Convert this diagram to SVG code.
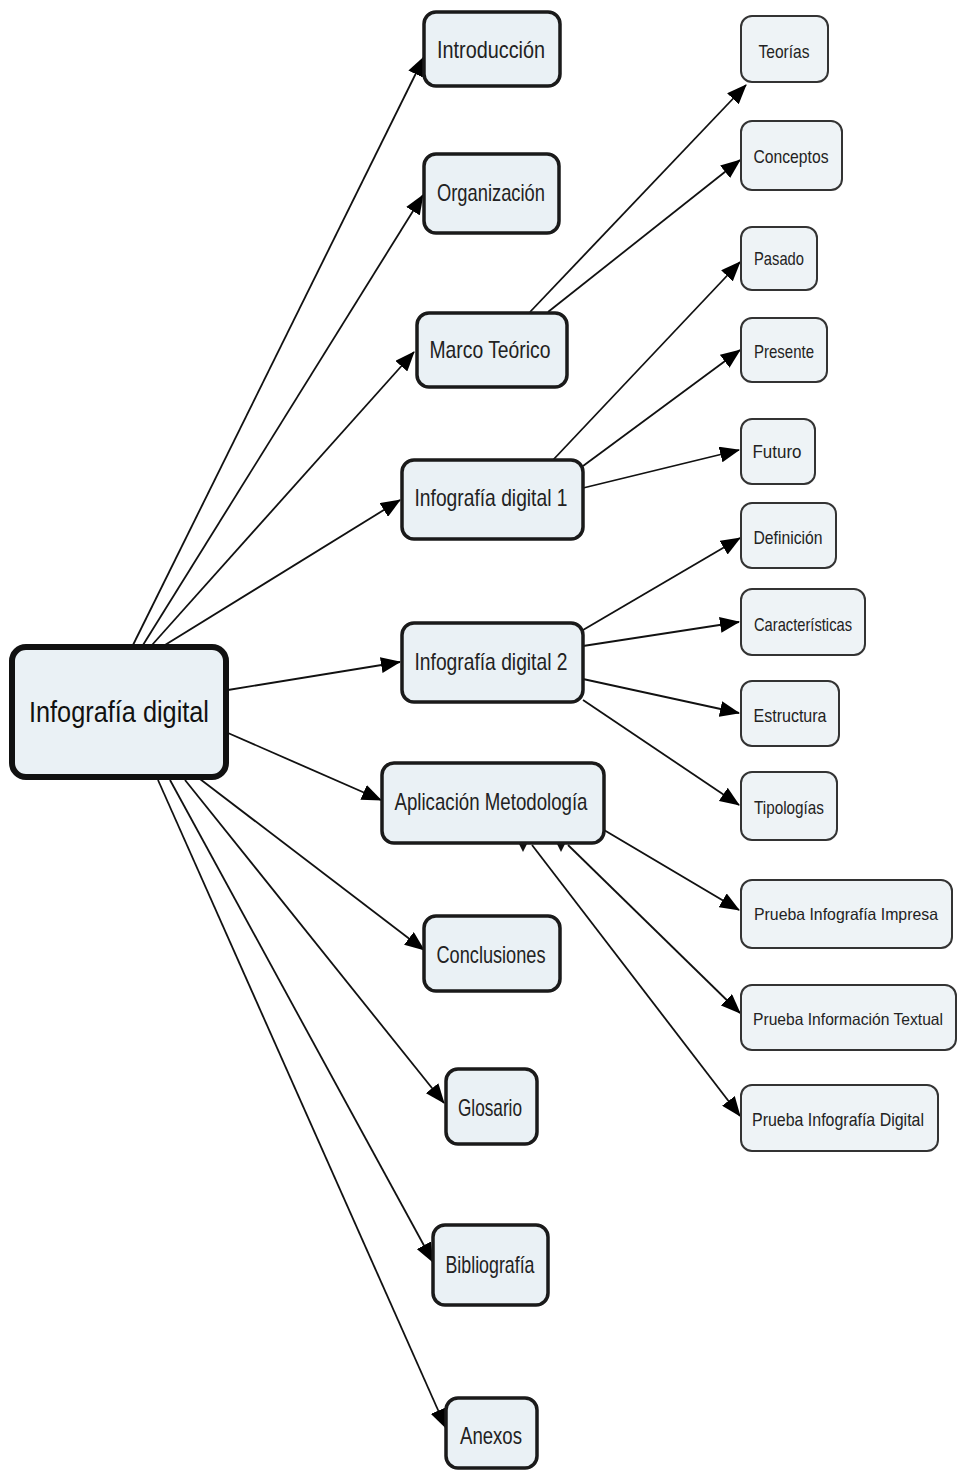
<svg xmlns="http://www.w3.org/2000/svg" width="958" height="1470" viewBox="0 0 958 1470">
<defs>
<marker id="arr" markerUnits="userSpaceOnUse" markerWidth="20" markerHeight="16" refX="19" refY="8" orient="auto">
<path d="M0,0 L20,8 L0,16 Z" fill="#000"/>
</marker>
<style>
.root rect{fill:#eaf1f5;stroke:#111;stroke-width:6}
.mid rect{fill:#eaf1f5;stroke:#1a1a1a;stroke-width:3.5}
.leaf rect{fill:#eef3f6;stroke:#333;stroke-width:2}
text{font-family:"Liberation Sans Narrow","Liberation Sans",Arial,sans-serif;fill:#222;text-anchor:middle}
.root text{font-size:30px;fill:#111}
.mid text{font-size:24px}
.leaf text{font-size:19px}
.leaf text.long{font-size:16.5px}
#connectors line{stroke:#111;stroke-width:1.8;marker-end:url(#arr)}
</style>
</defs>
<rect width="958" height="1470" fill="#fff"/>
<g id="connectors">
<line x1="133" y1="645" x2="424" y2="57"/>
<line x1="143" y1="645" x2="423" y2="195"/>
<line x1="152" y1="645" x2="414" y2="352"/>
<line x1="165" y1="645" x2="400" y2="500"/>
<line x1="228" y1="690" x2="400" y2="662"/>
<line x1="228" y1="733" x2="381" y2="800"/>
<line x1="200" y1="779" x2="424" y2="950"/>
<line x1="185" y1="780" x2="444" y2="1103"/>
<line x1="170" y1="780" x2="433" y2="1262"/>
<line x1="158" y1="780" x2="446" y2="1428"/>
<line x1="530" y1="312" x2="746" y2="85"/>
<line x1="548" y1="312" x2="740" y2="160"/>
<line x1="553" y1="460" x2="740" y2="262"/>
<line x1="583" y1="466" x2="740" y2="350"/>
<line x1="583" y1="488" x2="739" y2="450"/>
<line x1="583" y1="630" x2="740" y2="538"/>
<line x1="583" y1="646" x2="739" y2="622"/>
<line x1="583" y1="679" x2="739" y2="713"/>
<line x1="583" y1="700" x2="739" y2="805"/>
<line x1="604" y1="830" x2="739" y2="910"/>
<line x1="568" y1="845" x2="740" y2="1013"/>
<line x1="532" y1="845" x2="740" y2="1116"/>
<path d="M519,844 L527,844 L523,852 Z M557,844 L565,844 L561,852 Z" fill="#111"/>
</g>
<g id="n-root" class="root"><rect x="12" y="647" width="214" height="130" rx="14"/><text x="119" y="722" textLength="180" lengthAdjust="spacingAndGlyphs">Infografía digital</text></g>
<g id="n-introduccion" class="mid"><rect x="424" y="12" width="136" height="74" rx="12"/><text x="491" y="58" textLength="108" lengthAdjust="spacingAndGlyphs">Introducción</text></g>
<g id="n-organizacion" class="mid"><rect x="424" y="154" width="135" height="79" rx="12"/><text x="491" y="201" textLength="108" lengthAdjust="spacingAndGlyphs">Organización</text></g>
<g id="n-marco" class="mid"><rect x="417" y="313" width="150" height="74" rx="12"/><text x="490" y="358" textLength="121" lengthAdjust="spacingAndGlyphs">Marco Teórico</text></g>
<g id="n-info1" class="mid"><rect x="402" y="460" width="181" height="79" rx="12"/><text x="491" y="506" textLength="153" lengthAdjust="spacingAndGlyphs">Infografía digital 1</text></g>
<g id="n-info2" class="mid"><rect x="402" y="623" width="181" height="79" rx="12"/><text x="491" y="670" textLength="153" lengthAdjust="spacingAndGlyphs">Infografía digital 2</text></g>
<g id="n-aplicacion" class="mid"><rect x="382" y="763" width="222" height="80" rx="12"/><text x="491" y="810" textLength="193" lengthAdjust="spacingAndGlyphs">Aplicación Metodología</text></g>
<g id="n-conclusiones" class="mid"><rect x="424" y="916" width="136" height="75" rx="12"/><text x="491" y="963" textLength="109" lengthAdjust="spacingAndGlyphs">Conclusiones</text></g>
<g id="n-glosario" class="mid"><rect x="446" y="1069" width="91" height="75" rx="12"/><text x="490" y="1116" textLength="64" lengthAdjust="spacingAndGlyphs">Glosario</text></g>
<g id="n-bibliografia" class="mid"><rect x="433" y="1225" width="115" height="80" rx="12"/><text x="490" y="1273" textLength="89" lengthAdjust="spacingAndGlyphs">Bibliografía</text></g>
<g id="n-anexos" class="mid"><rect x="446" y="1398" width="91" height="70" rx="12"/><text x="491" y="1444" textLength="62" lengthAdjust="spacingAndGlyphs">Anexos</text></g>
<g id="n-teorias" class="leaf"><rect x="741" y="16" width="87" height="66" rx="11"/><text x="784" y="58" textLength="51" lengthAdjust="spacingAndGlyphs">Teorías</text></g>
<g id="n-conceptos" class="leaf"><rect x="741" y="121" width="101" height="69" rx="11"/><text x="791" y="163" textLength="75" lengthAdjust="spacingAndGlyphs">Conceptos</text></g>
<g id="n-pasado" class="leaf"><rect x="741" y="227" width="76" height="63" rx="11"/><text x="779" y="265" textLength="50" lengthAdjust="spacingAndGlyphs">Pasado</text></g>
<g id="n-presente" class="leaf"><rect x="741" y="318" width="86" height="64" rx="11"/><text x="784" y="358" textLength="60" lengthAdjust="spacingAndGlyphs">Presente</text></g>
<g id="n-futuro" class="leaf"><rect x="741" y="419" width="74" height="65" rx="11"/><text x="777" y="458" textLength="49" lengthAdjust="spacingAndGlyphs">Futuro</text></g>
<g id="n-definicion" class="leaf"><rect x="741" y="503" width="95" height="65" rx="11"/><text x="788" y="544" textLength="69" lengthAdjust="spacingAndGlyphs">Definición</text></g>
<g id="n-caracteristicas" class="leaf"><rect x="741" y="589" width="124" height="66" rx="11"/><text x="803" y="631" textLength="98" lengthAdjust="spacingAndGlyphs">Características</text></g>
<g id="n-estructura" class="leaf"><rect x="741" y="681" width="98" height="65" rx="11"/><text x="790" y="722" textLength="73" lengthAdjust="spacingAndGlyphs">Estructura</text></g>
<g id="n-tipologias" class="leaf"><rect x="741" y="772" width="96" height="68" rx="11"/><text x="789" y="814" textLength="70" lengthAdjust="spacingAndGlyphs">Tipologías</text></g>
<g id="n-impresa" class="leaf"><rect x="741" y="880" width="211" height="68" rx="11"/><text class="long" x="846" y="920" textLength="184" lengthAdjust="spacingAndGlyphs">Prueba Infografía Impresa</text></g>
<g id="n-textual" class="leaf"><rect x="741" y="985" width="215" height="65" rx="11"/><text class="long" x="848" y="1025" textLength="190" lengthAdjust="spacingAndGlyphs">Prueba Información Textual</text></g>
<g id="n-digital" class="leaf"><rect x="741" y="1085" width="197" height="66" rx="11"/><text x="838" y="1126" textLength="172" lengthAdjust="spacingAndGlyphs">Prueba Infografía Digital</text></g>
</svg>
